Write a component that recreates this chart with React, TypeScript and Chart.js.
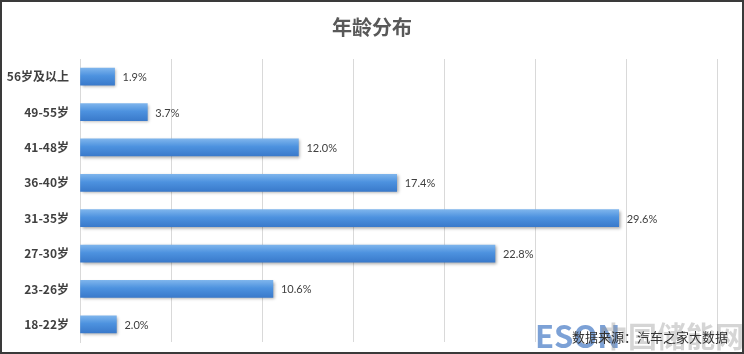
import React, { useEffect, useRef } from "react";
import { Chart, registerables } from "chart.js";

Chart.register(...registerables);

const categories = ["56岁及以上", "49-55岁", "41-48岁", "36-40岁", "31-35岁", "27-30岁", "23-26岁", "18-22岁"];
const values = [1.9, 3.7, 12.0, 17.4, 29.6, 22.8, 10.6, 2.0];
const valueLabels = ["1.9%", "3.7%", "12.0%", "17.4%", "29.6%", "22.8%", "10.6%", "2.0%"];
const titleText = "年龄分布";
const sourceText = "数据来源：汽车之家大数据";
const xMin = 0;
const xMax = 35;
const xStep = 5;

const CJK = '"Noto Sans CJK SC", sans-serif';
const NUM = 'Lato, "Noto Sans CJK SC", sans-serif';

const labelPlugin = {
  id: "valueLabels",
  afterDatasetsDraw(chart: any) {
    const ctx = chart.ctx;
    const meta = chart.getDatasetMeta(0);
    ctx.save();
    ctx.font = "11px " + NUM;
    ctx.fillStyle = "#404040";
    ctx.textBaseline = "middle";
    ctx.textAlign = "left";
    meta.data.forEach((el: any, i: number) => {
      ctx.fillText(valueLabels[i], el.x + 8, el.y + 1);
    });
    ctx.restore();
  },
};

const shadowPlugin = {
  id: "barShadow",
  beforeDatasetsDraw(chart: any) {
    const ctx = chart.ctx;
    ctx.save();
    ctx.shadowColor = "rgba(0,0,0,0.35)";
    ctx.shadowBlur = 3;
    ctx.shadowOffsetX = 1.5;
    ctx.shadowOffsetY = 1.5;
  },
  afterDatasetsDraw(chart: any) {
    chart.ctx.restore();
  },
};

const centerTitlePlugin = {
  id: "centerTitle",
  afterLayout(chart: any) {
    const t = chart.titleBlock;
    if (t) {
      t.left = 0;
      t.right = chart.width;
      t.width = chart.width;
    }
  },
};

const watermarkPlugin = {
  id: "watermark",
  afterDraw(chart: any) {
    const ctx = chart.ctx;
    ctx.save();
    ctx.textBaseline = "alphabetic";
    ctx.textAlign = "left";
    ctx.font = "bold 31px " + CJK;
    ctx.fillStyle = "rgba(80,130,200,0.75)";
    ctx.fillText("ESON", 533, 346);
    ctx.font = "bold 29px " + CJK;
    ctx.fillStyle = "rgba(150,150,150,0.4)";
    ctx.fillText("中国储能网", 597, 346);
    ctx.font = "13px " + CJK;
    ctx.fillStyle = "#333333";
    ctx.fillText(sourceText, 570, 340);
    ctx.restore();
  },
};

export default function App() {
  const ref = useRef<HTMLCanvasElement | null>(null);
  useEffect(() => {
    if (!ref.current) return;
    const chart = new Chart(ref.current, {
      type: "bar",
      data: {
        labels: categories,
        datasets: [
          {
            data: values,
            barThickness: 17,
            borderWidth: 0,
            backgroundColor: (c: any) => {
              const ch = c.chart;
              const ca = ch.chartArea;
              if (!ca || c.dataIndex === undefined) return "#4a8fdb";
              const y = ch.scales.y.getPixelForValue(c.dataIndex);
              const g = ch.ctx.createLinearGradient(0, y - 8.5, 0, y + 8.5);
              g.addColorStop(0, "#7db4ec");
              g.addColorStop(0.45, "#4d92df");
              g.addColorStop(1, "#3a7acb");
              return g;
            },
          },
        ],
      },
      options: {
        indexAxis: "y",
        animation: false,
        responsive: false,
        maintainAspectRatio: false,
        layout: { padding: { left: 0, right: 25, top: 0, bottom: 10 } },
        plugins: {
          legend: { display: false },
          tooltip: { enabled: false },
          title: {
            display: true,
            text: titleText,
            color: "#595959",
            font: { family: CJK, size: 20, weight: "bold" },
            padding: { top: 13, bottom: 20 },
          },
        },
        scales: {
          x: {
            min: xMin,
            max: xMax,
            ticks: { display: false, stepSize: xStep },
            grid: { color: "#d9d9d9", drawTicks: false },
            border: { display: false },
            afterFit: (s: any) => {
              s.height = 0;
            },
          },
          y: {
            ticks: {
              color: "#404040",
              font: { family: CJK, size: 12, weight: "bold" },
              padding: 11,
            },
            grid: { display: false, drawTicks: false },
            border: { display: true, color: "#d9d9d9" },
            afterFit: (s: any) => {
              s.width = 78;
              s.paddingTop = 0;
              s.paddingBottom = 0;
            },
          },
        },
      },
      plugins: [centerTitlePlugin, shadowPlugin, labelPlugin, watermarkPlugin],
    } as any);
    return () => chart.destroy();
  }, []);
  return (
    <div
      style={{
        position: "absolute",
        left: 0,
        top: 0,
        width: 744,
        height: 354,
        boxSizing: "border-box",
        border: "2px solid #3a3a3a",
        background: "#fff",
        overflow: "hidden",
      }}
    >
      <canvas ref={ref} width={740} height={350} style={{ display: "block" }} />
    </div>
  );
}
